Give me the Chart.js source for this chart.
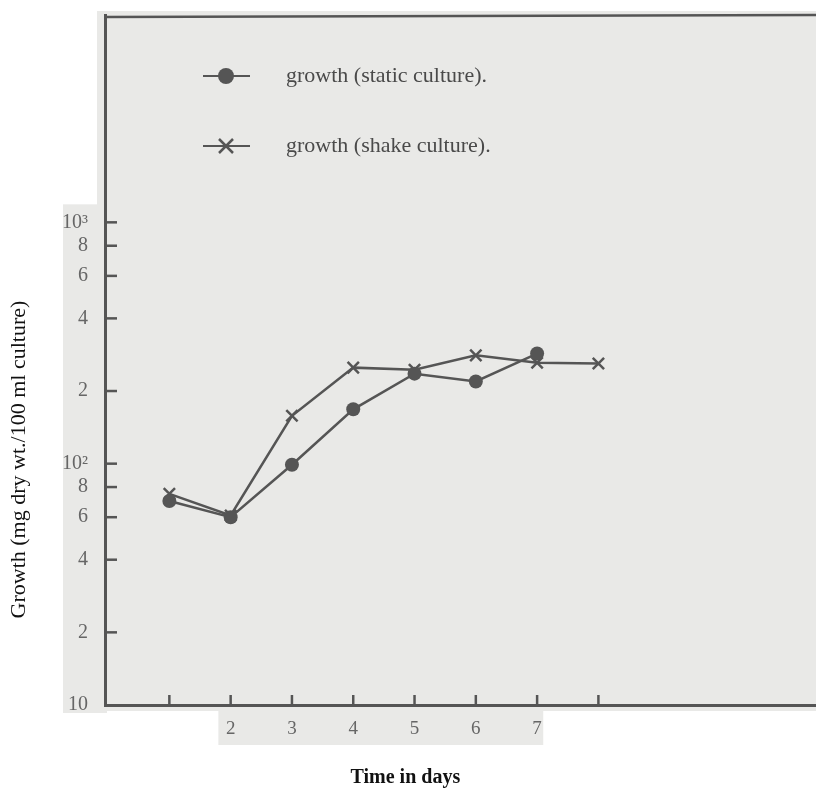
<!DOCTYPE html>
<html>
<head>
<meta charset="utf-8">
<script src="https://cdn.jsdelivr.net/npm/chart.js@4"></script>
<style>
body{margin:0;background:#fff}
</style>
</head>
<body>
<canvas id="grafico" width="816" height="789"></canvas>
<script>
// datos
const dias=[1,2,3,4,5,6,7,8]
const estatico=[70,60,99,168,236,219,286]          // cultivo estatico, dias 1-7
const agitado=[75,61,158,250,245,281,262,260]      // cultivo en agitacion, dias 1-8
const ticksY=[10,20,40,60,80,100,200,400,600,800,1000]
const etiquetasY=['10','2','4','6','8','10²','2','4','6','8','10³']
const ticksX=[1,2,3,4,5,6,7,8]
const etiquetasX=['','2','3','4','5','6','7','']
const nombres=['growth (static culture).','growth (shake culture).']

const gris='#555555'
const fondo='#e9e9e7'
const fuente='"Liberation Serif", "DejaVu Serif", serif'

// fondo gris, marcas hacia dentro, borde superior, leyenda y titulos
const decorado={
    id:'decorado',
    beforeDraw(chart){
        const c=chart.ctx, a=chart.chartArea
        const sy=chart.scales.y, sx=chart.scales.x
        c.save()
        c.fillStyle=fondo
        c.fillRect(a.left-8,a.top-4,a.right-a.left+8,a.bottom-a.top+10)
        c.fillRect(a.left-42,sy.getPixelForValue(1000)-18,44,a.bottom-sy.getPixelForValue(1000)+26)
        c.fillRect(sx.getPixelForValue(1.8),a.bottom,sx.getPixelForValue(7.1)-sx.getPixelForValue(1.8),40)
        c.restore()
    },
    afterDraw(chart){
        const c=chart.ctx, a=chart.chartArea
        const sy=chart.scales.y, sx=chart.scales.x
        c.save()
        c.strokeStyle=gris
        c.lineWidth=2.5
        // borde superior
        c.beginPath()
        c.moveTo(a.left-1,a.top+2)
        c.lineTo(a.right,a.top)
        c.stroke()
        // marcas eje y
        ticksY.forEach(v=>{
            if(v==10) return
            const p=sy.getPixelForValue(v)
            c.beginPath(); c.moveTo(a.left,p); c.lineTo(a.left+12,p); c.stroke()
        })
        // marcas eje x
        ticksX.forEach(v=>{
            const p=sx.getPixelForValue(v)
            c.beginPath(); c.moveTo(p,a.bottom); c.lineTo(p,a.bottom-10); c.stroke()
        })
        // leyenda
        const filas=[76,146]
        c.font='22px '+fuente
        c.textBaseline='middle'
        filas.forEach((y,i)=>{
            c.strokeStyle=gris
            c.lineWidth=2
            c.beginPath(); c.moveTo(203,y); c.lineTo(250,y); c.stroke()
            if(i==0){
                c.fillStyle=gris
                c.beginPath(); c.arc(226,y,8,0,Math.PI*2); c.fill()
            }else{
                c.lineWidth=2.5
                c.beginPath()
                c.moveTo(219,y-7); c.lineTo(233,y+7)
                c.moveTo(233,y-7); c.lineTo(219,y+7)
                c.stroke()
            }
            c.fillStyle='#4a4a4a'
            c.fillText(nombres[i],286,y)
        })
        // titulos de ejes
        c.fillStyle='#111'
        c.font='bold 20px '+fuente
        c.textAlign='center'
        c.fillText('Time in days',sx.getPixelForValue(4.85),778)
        c.font='22px '+fuente
        c.translate(19,sy.getPixelForValue(104))
        c.rotate(-Math.PI/2)
        c.fillText('Growth (mg dry wt./100 ml culture)',0,0)
        c.restore()
    }
}

function grafico(){
    const ctx=document.getElementById('grafico')
    new Chart(ctx,{
        type:'line',
        data:{
            datasets:[{
                label:nombres[0],
                data:estatico.map((v,i)=>({x:dias[i],y:v})),
                borderColor:gris,
                backgroundColor:gris,
                borderWidth:2.5,
                pointStyle:'circle',
                pointRadius:7,
                pointBorderWidth:0,
                tension:0
            },{
                label:nombres[1],
                data:agitado.map((v,i)=>({x:dias[i],y:v})),
                borderColor:gris,
                backgroundColor:gris,
                borderWidth:2.5,
                pointStyle:'crossRot',
                pointRadius:8,
                pointBorderWidth:2.5,
                tension:0
            }]
        },
        options:{
            responsive:false,
            animation:false,
            layout:{autoPadding:false,padding:{top:15,left:0,right:0,bottom:0}},
            plugins:{legend:{display:false},tooltip:{enabled:false}},
            scales:{
                x:{
                    type:'linear',
                    min:-0.05,
                    max:11.55,
                    afterBuildTicks(s){ s.ticks=ticksX.map(v=>({value:v})) },
                    afterFit(s){ s.height=84; s.paddingLeft=0; s.paddingRight=0 },
                    grid:{display:false},
                    border:{color:gris,width:3},
                    ticks:{
                        padding:5,
                        color:'#666',
                        font:{family:fuente,size:19},
                        callback:(v)=>etiquetasX[ticksX.indexOf(v)] ?? ''
                    }
                },
                y:{
                    type:'logarithmic',
                    min:10,
                    max:7230,
                    afterBuildTicks(s){ s.ticks=ticksY.map(v=>({value:v})) },
                    afterFit(s){ s.width=105; s.paddingTop=0; s.paddingBottom=0 },
                    grid:{display:false},
                    border:{color:gris,width:3},
                    ticks:{
                        padding:9,
                        color:'#666',
                        font:{family:fuente,size:20},
                        callback:(v)=>etiquetasY[ticksY.indexOf(v)] ?? ''
                    }
                }
            }
        },
        plugins:[decorado]
    })
}

grafico()
</script>
</body>
</html>
